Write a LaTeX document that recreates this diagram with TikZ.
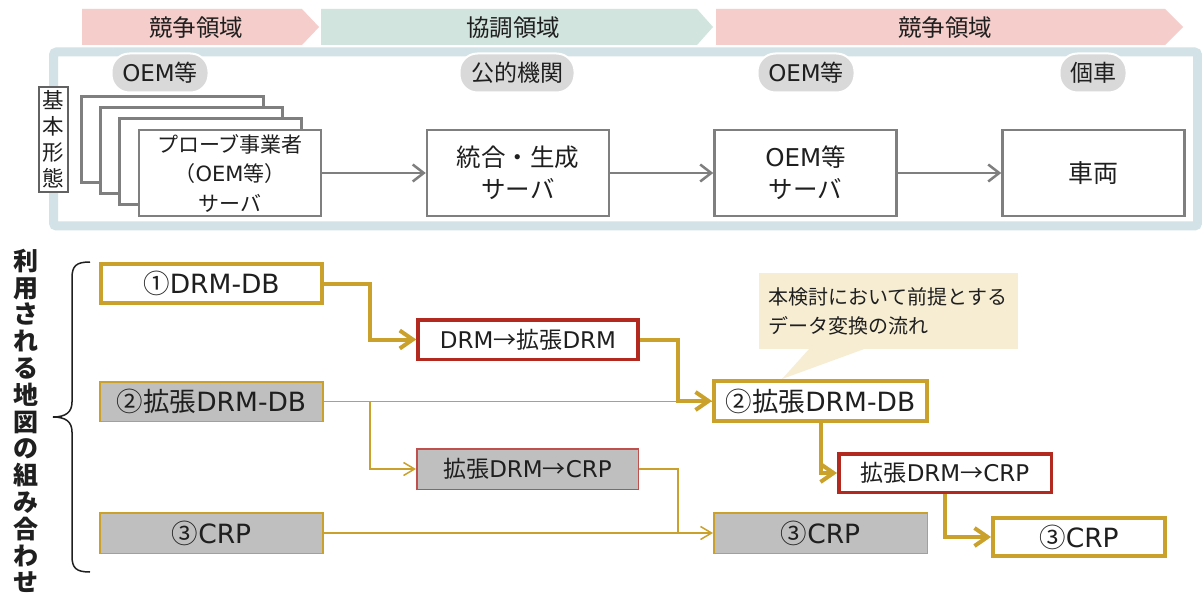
\documentclass[tikz,border=0pt]{standalone}
\usepackage{fontspec}
\setmainfont{Noto Sans CJK JP}
\newfontfamily\latfont{DejaVu Sans}
\newcommand\latn[1]{{\latfont #1}}
\usetikzlibrary{arrows.meta}
\definecolor{gold}{HTML}{C9A12B}
\definecolor{redline}{HTML}{B2291F}
\definecolor{redthin}{HTML}{C0504D}
\definecolor{greyfill}{HTML}{BFBFBF}
\definecolor{pillgrey}{HTML}{D9D9D9}
\definecolor{srvgrey}{HTML}{7F7F7F}
\definecolor{framecol}{HTML}{D3E2E6}
\definecolor{pinkband}{HTML}{F5CDCA}
\definecolor{greenband}{HTML}{D2E4DE}
\definecolor{notefill}{HTML}{F7EDD3}
\definecolor{ink}{HTML}{1F1F1F}
\tikzset{
  fs/.style 2 args={font=\fontsize{#1}{#2}\selectfont},
  pill/.style={fill=pillgrey, draw=white, line width=2, rounded corners=18,
    minimum height=39, inner sep=0, fs={23}{27}, text=ink},
  srv/.style={draw=srvgrey, fill=white, line width=2.5, minimum width=182,
    minimum height=86, inner sep=0, align=center, text=ink},
  garrow/.style={draw=srvgrey, line width=2.5, -{Straight Barb[length=11,width=17]}},
  goldbox/.style={draw=gold, fill=white, line width=4, inner sep=0, fs={26.5}{30}, text=ink},
  goldgrey/.style={draw=gold, fill=greyfill, line width=1.5, inner sep=0, fs={26.5}{30}, text=ink},
  redbox/.style={draw=redline, fill=white, line width=3.5, inner sep=0, fs={23}{26}, text=ink},
  redgrey/.style={draw=redthin, fill=greyfill, line width=1.5, inner sep=0, fs={23}{26}, text=ink},
  thickgold/.style={draw=gold, line width=4, -{Straight Barb[length=13,width=18]}},
  thingold/.style={draw=gold, line width=1.5},
  thinarrow/.style={thingold, -{Straight Barb[length=11,width=13]}},
}
\begin{document}
\begin{tikzpicture}[x=1pt,y=-1pt]
\useasboundingbox (0,0) rectangle (1202,596);
\fill[white] (0,0) rectangle (1202,596);

% domain bands
\fill[pinkband] (82,9) -- (302,9) -- (319,27) -- (302,45) -- (82,45) -- cycle;
\fill[greenband] (321,9) -- (697,9) -- (713,27) -- (697,45) -- (321,45) -- cycle;
\fill[pinkband] (716,9) -- (1165,9) -- (1183,27) -- (1165,45) -- (716,45) -- cycle;
\node[fs={23.5}{27}, text=ink] (band1) at (196,28) {競争領域};
\node[fs={23.5}{27}, text=ink] (band2) at (513,28) {協調領域};
\node[fs={23.5}{27}, text=ink] (band3) at (945,28) {競争領域};

% basic-form frame
\draw[framecol, line width=9, rounded corners=3] (53.5,52) rectangle (1197.5,226);

% actor pills
\node[pill, minimum width=97] (p1) at (160,73) {\latn{OEM}等};
\node[pill, minimum width=115] (p2) at (517,73) {公的機関};
\node[pill, minimum width=97] (p3) at (806,73) {\latn{OEM}等};
\node[pill, minimum width=67] (p4) at (1093,73) {個車};

% probe servers (stacked)
\node[srv] (s4) at (172.5,139.5) {};
\node[srv] (s3) at (191.5,150.5) {};
\node[srv] (s2) at (210.5,161.5) {};
\node[srv, fs={21}{29.5}] (s1) at (230,173) {プローブ事業者\\（\latn{OEM}等）\\サーバ};
\node[srv, fs={24.5}{32}] (gen) at (518,173) {統合・生成\\サーバ};
\node[srv, fs={24.5}{32}] (oem) at (805.5,173) {\latn{OEM}等\\サーバ};
\node[srv, fs={25}{32}] (veh) at (1093.5,173) {車両};
\draw[garrow] (s1.east) -- (gen.west);
\draw[garrow] (gen.east) -- (oem.west);
\draw[garrow] (oem.east) -- (veh.west);

\node[draw=ink!70, line width=1.5, fill=white, minimum width=29, minimum height=105,
  inner sep=0, align=center, text=ink, fs={21.5}{26}]
  (kihon) at (53.5,139.5) {基\\本\\形\\態};

% map combinations
\node[align=center, text=ink, font=\fontsize{25}{26.8}\selectfont\bfseries] (combo) at (26,421)
  {利\\用\\さ\\れ\\る\\地\\図\\の\\組\\み\\合\\わ\\せ};
\draw[ink, line width=1.5] (90,262) .. controls (76,262) and (72,266) .. (72,278)
  -- (72,402) .. controls (72,412) and (66,417) .. (53,417)
  .. controls (66,417) and (72,422) .. (72,432)
  -- (72,556) .. controls (72,568) and (76,572) .. (90,572);

\node[goldbox, minimum width=221, minimum height=39] (a1) at (211.5,283.5) {①\latn{DRM-DB}};
\node[goldgrey, minimum width=223, minimum height=39.5] (a2) at (211.5,401.5) {②拡張\latn{DRM-DB}};
\node[goldgrey, minimum width=223, minimum height=40.5] (a3) at (211.5,533) {③\latn{CRP}};
\node[redbox, minimum width=220, minimum height=39.5] (b1) at (528,339.5) {\latn{DRM}→拡張\latn{DRM}};
\node[redgrey, minimum width=221.5, minimum height=40.5] (b2) at (527.5,469) {拡張\latn{DRM}→\latn{CRP}};
\node[goldbox, minimum width=213, minimum height=40] (c1) at (820.5,401) {②拡張\latn{DRM-DB}};
\node[goldgrey, minimum width=213.5, minimum height=40.5] (c2) at (820.5,533) {③\latn{CRP}};
\node[redbox, minimum width=212.5, minimum height=38.5] (d1) at (945,473) {拡張\latn{DRM}→\latn{CRP}};
\node[goldbox, minimum width=172, minimum height=38] (e1) at (1079,537) {③\latn{CRP}};

% note callout
\fill[notefill] (810,348) -- (782,379) -- (867,348) -- cycle;
\node[fill=notefill, minimum width=259, minimum height=76, text width=240, inner xsep=9.5,
  align=left, text=ink, fs={20}{29}] (note) at (888.5,311)
  {本検討において前提とする\\データ変換の流れ};

% thin flows
\coordinate (br) at (370,401.5);
\coordinate (mg) at (678,533);
\draw[thingold] (a2.east) -- (a2.east -| c1.west);
\draw[thinarrow] (br) |- (b2.west);
\draw[thingold] (b2.east) -| (mg);
\draw[thinarrow] (a3.east) -- (c2.west);

% main flow
\draw[thickgold] (a1.east) -- ++(46,0) |- (b1.west);
\draw[thickgold] (b1.east) -- ++(38,0) |- (c1.west);
\draw[thickgold] (c1.south) |- (d1.west);
\draw[thickgold] (d1.south) |- (e1.west);
\end{tikzpicture}
\end{document}
